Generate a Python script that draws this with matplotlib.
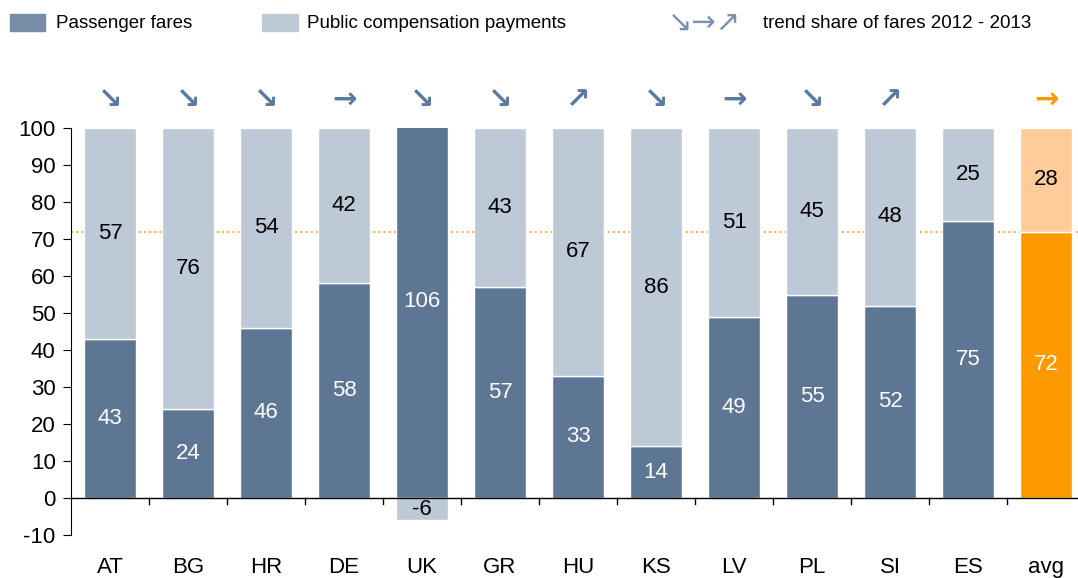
import numpy as np
import matplotlib
matplotlib.use('Agg')
import matplotlib.pyplot as plt
from matplotlib.patches import Rectangle

# data
countries = ['AT', 'BG', 'HR', 'DE', 'UK', 'GR', 'HU', 'KS', 'LV', 'PL', 'SI', 'ES', 'avg']
fares = [43, 24, 46, 58, 106, 57, 33, 14, 49, 55, 52, 75, 72]
public = [57, 76, 54, 42, -6, 43, 67, 86, 51, 45, 48, 25, 28]
trend = ['↘', '↘', '↘', '→', '↘', '↘', '↗', '↘', '→', '↘', '↗', '', '→']
avg_line = 72

dark = '#5D7694'
light = '#BDC9D7'
orange = '#FF9900'
light_orange = '#FFCC99'
arrow_blue = '#5C7A9E'

plt.rcParams['font.family'] = ['Liberation Sans', 'DejaVu Sans']
plt.rcParams['axes.unicode_minus'] = False

fig = plt.figure(figsize=(10.78, 5.78), dpi=100)
ax = fig.add_axes([71/1078, 43/578, 1007/1078, 407/578])

x = np.arange(len(countries))
fares = np.array(fares)
public = np.array(public)
bottom = np.where(public >= 0, fares, 0)
c_dark = [dark] * (len(x) - 1) + [orange]
c_light = [light] * (len(x) - 1) + [light_orange]

ax.axhline(avg_line, color='#FFB04A', lw=1.5, ls=(0, (1, 1.5)), zorder=1)
ax.bar(x, fares, width=0.67, color=c_dark, edgecolor='white', lw=1, zorder=2)
ax.bar(x, public, width=0.67, bottom=bottom, color=c_light, edgecolor='white', lw=1, zorder=2)

for i in x:
    ax.text(i, fares[i] / 2, str(fares[i]),
            ha='center', va='center', color='white', fontsize=16, zorder=3)
    ax.text(i, bottom[i] + public[i] / 2, str(public[i]),
            ha='center', va='center', color='black', fontsize=16, zorder=3)
    col = orange if countries[i] == 'avg' else arrow_blue
    ax.text(i, 107.5, trend[i], ha='center', va='center', color=col,
            fontsize=21, fontweight='bold', family='DejaVu Sans', clip_on=False)

# axis at zero with ticks between categories
ax.axhline(0, color='black', lw=1, zorder=4)
for b in x[:-1] + 0.5:
    ax.plot([b, b], [0, -1.6], color='black', lw=1, zorder=4, clip_on=False)

ax.set_xlim(-0.5, 12.41)
ax.set_ylim(-10, 100)
ax.set_yticks(np.arange(-10, 101, 10))
ax.tick_params(axis='y', labelsize=16, length=6, direction='out', pad=5)
ax.set_xticks(x, countries)
ax.tick_params(axis='x', length=0, labelsize=16, pad=16)
for s in ['top', 'right', 'bottom']:
    ax.spines[s].set_visible(False)

# legend
W, H = 1078, 578
fig.patches.append(Rectangle((10/W, 1 - 31/H), 35/W, 17/H, transform=fig.transFigure,
                             color='#788DA7'))
fig.text(56/W, 1 - 23/H, 'Passenger fares', fontsize=13.5, va='center')
fig.patches.append(Rectangle((262/W, 1 - 31/H), 36/W, 17/H, transform=fig.transFigure,
                             color='#BFCAD8'))
fig.text(307/W, 1 - 23/H, 'Public compensation payments', fontsize=13.5, va='center')
fig.text(668/W, 1 - 23/H, '↘→↗', fontsize=21, va='center', color='#7B90AA',
         family='DejaVu Sans')
fig.text(763/W, 1 - 23/H, 'trend share of fares 2012 - 2013', fontsize=13.5, va='center')

fig.savefig('out.png', dpi=100)
